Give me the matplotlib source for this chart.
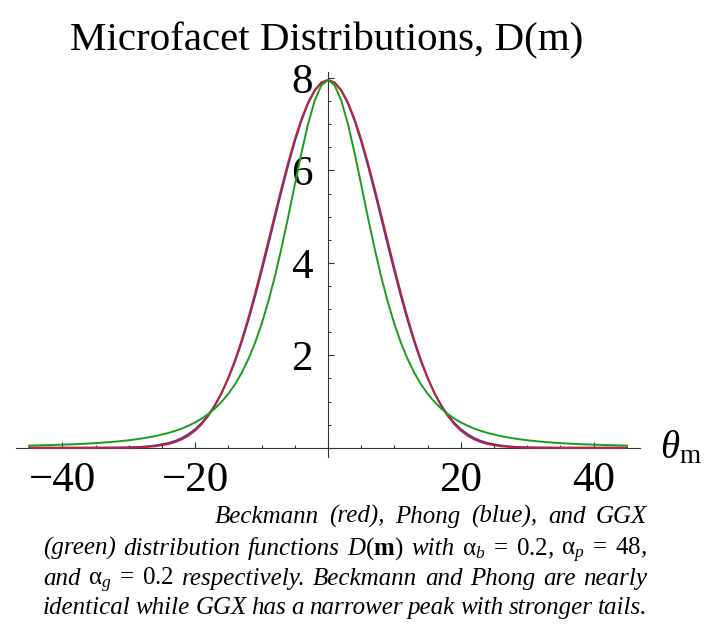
import numpy as np
import matplotlib
matplotlib.use("Agg")
import matplotlib.pyplot as plt
from matplotlib.ticker import FixedLocator, MultipleLocator

# values, theta >= 0 half (curves are symmetric)
theta_half = [0, 1, 2, 3, 4, 5, 6, 7, 8, 9, 10, 11, 12, 13, 14, 15, 16, 17, 18, 19,
              20, 21, 22, 23, 24, 26, 28, 30, 32, 34, 36, 38, 40, 42, 44, 45]
beckmann_half = [7.958, 7.902, 7.738, 7.471, 7.111, 6.673, 6.172, 5.625, 5.050, 4.466,
                 3.889, 3.333, 2.810, 2.329, 1.898, 1.519, 1.193, 0.920, 0.695, 0.514,
                 0.372, 0.263, 0.182, 0.123, 0.081, 0.032, 0.011, 0.003, 0.001, 0.0,
                 0.0, 0.0, 0.0, 0.0, 0.0, 0.0]
phong_half = [7.958, 7.900, 7.728, 7.451, 7.079, 6.627, 6.113, 5.557, 4.976, 4.391,
              3.816, 3.268, 2.755, 2.288, 1.871, 1.507, 1.195, 0.932, 0.716, 0.541,
              0.402, 0.294, 0.211, 0.149, 0.104, 0.048, 0.020, 0.008, 0.003, 0.001,
              0.0, 0.0, 0.0, 0.0, 0.0, 0.0]
ggx_half = [7.958, 7.843, 7.512, 7.006, 6.380, 5.693, 4.995, 4.325, 3.708, 3.158,
            2.678, 2.266, 1.917, 1.623, 1.376, 1.170, 0.998, 0.855, 0.734, 0.634,
            0.549, 0.478, 0.417, 0.366, 0.322, 0.253, 0.201, 0.162, 0.133, 0.110,
            0.092, 0.078, 0.067, 0.058, 0.050, 0.047]

x_major = [-40, -20, 20, 40]
y_major = [2, 4, 6, 8]

title = "Microfacet Distributions, D(m)"
caption = [
    ["Beckmann", "(red),", "Phong", "(blue),", "and", "GGX"],
    ["(green)", "distribution", "functions", r"$D(\mathbf{m})$", "with",
     r"$\mathrm{\alpha}_b\;=\;0.2$,", r"$\mathrm{\alpha}_p\;=\;48$,"],
    ["and", r"$\mathrm{\alpha}_g\;=\;0.2$", "respectively.", "Beckmann", "and",
     "Phong", "are", "nearly"],
    ["identical", "while", "GGX", "has", "a", "narrower", "peak", "with",
     "stronger", "tails."],
]


def mirror(v, neg=False):
    v = np.asarray(v, dtype=float)
    left = -v[:0:-1] if neg else v[:0:-1]
    return np.concatenate([left, v])


theta = mirror(theta_half, neg=True)
beckmann = mirror(beckmann_half)
phong = mirror(phong_half)
ggx = mirror(ggx_half)

plt.rcParams["font.family"] = "Liberation Serif"
plt.rcParams["mathtext.fontset"] = "custom"
plt.rcParams["mathtext.rm"] = "Liberation Serif"
plt.rcParams["mathtext.it"] = "Liberation Serif:italic"
plt.rcParams["mathtext.bf"] = "Liberation Serif:bold"

W, H = 709, 627
fig = plt.figure(figsize=(W / 100, H / 100), dpi=100)
ax = fig.add_axes([16 / W, 1 - 457 / H, 624 / W, 385 / H])

ax.plot(theta, phong, color="#3434c8", lw=1.4, zorder=3)
ax.plot(theta, beckmann, color="#c0262c", lw=1.4, zorder=4)
ax.plot(theta, ggx, color="#1c9c1c", lw=1.4, zorder=5)

ax.set_xlim(-47, 47)
ax.set_ylim(-0.2, 8.13)
for s in ["top", "right"]:
    ax.spines[s].set_visible(False)
for s in ["left", "bottom"]:
    ax.spines[s].set_position(("data", 0))
    ax.spines[s].set_color("#333333")
    ax.spines[s].set_linewidth(0.8)

ax.xaxis.set_major_locator(FixedLocator(x_major))
ax.xaxis.set_minor_locator(MultipleLocator(5))
ax.yaxis.set_major_locator(FixedLocator(y_major))
ax.yaxis.set_minor_locator(MultipleLocator(0.5))
ax.tick_params(which="both", direction="in", color="#333333", width=0.8)
ax.tick_params(which="major", length=4.5, labelsize=31)
ax.tick_params(which="minor", length=2.5)
ax.tick_params(axis="x", which="major", pad=10)
ax.tick_params(axis="y", which="major", pad=11)

ax.text(50.0, -0.22, r"$\theta_{\mathrm{m}}$", fontsize=28, ha="left", va="baseline",
        clip_on=False)

fig.text(327 / W, 1 - 50 / H, title, ha="center", va="baseline", fontsize=29.5)

# justified caption lines
cap_kw = dict(fontsize=18, fontstyle="italic", va="baseline", ha="left")
line_y = [523, 555, 585, 614]
line_x0 = [215, 43, 43, 43]
x1 = 647
renderer = fig.canvas.get_renderer()
for words, y, x0 in zip(caption, line_y, line_x0):
    texts = [fig.text(0, 1 - y / H, w, **cap_kw) for w in words]
    widths = [t.get_window_extent(renderer).width for t in texts]
    gap = (x1 - x0 - sum(widths)) / (len(words) - 1)
    x = x0
    for t, w in zip(texts, widths):
        t.set_x(x / W)
        x += w + gap

fig.savefig("out.png", dpi=100)
